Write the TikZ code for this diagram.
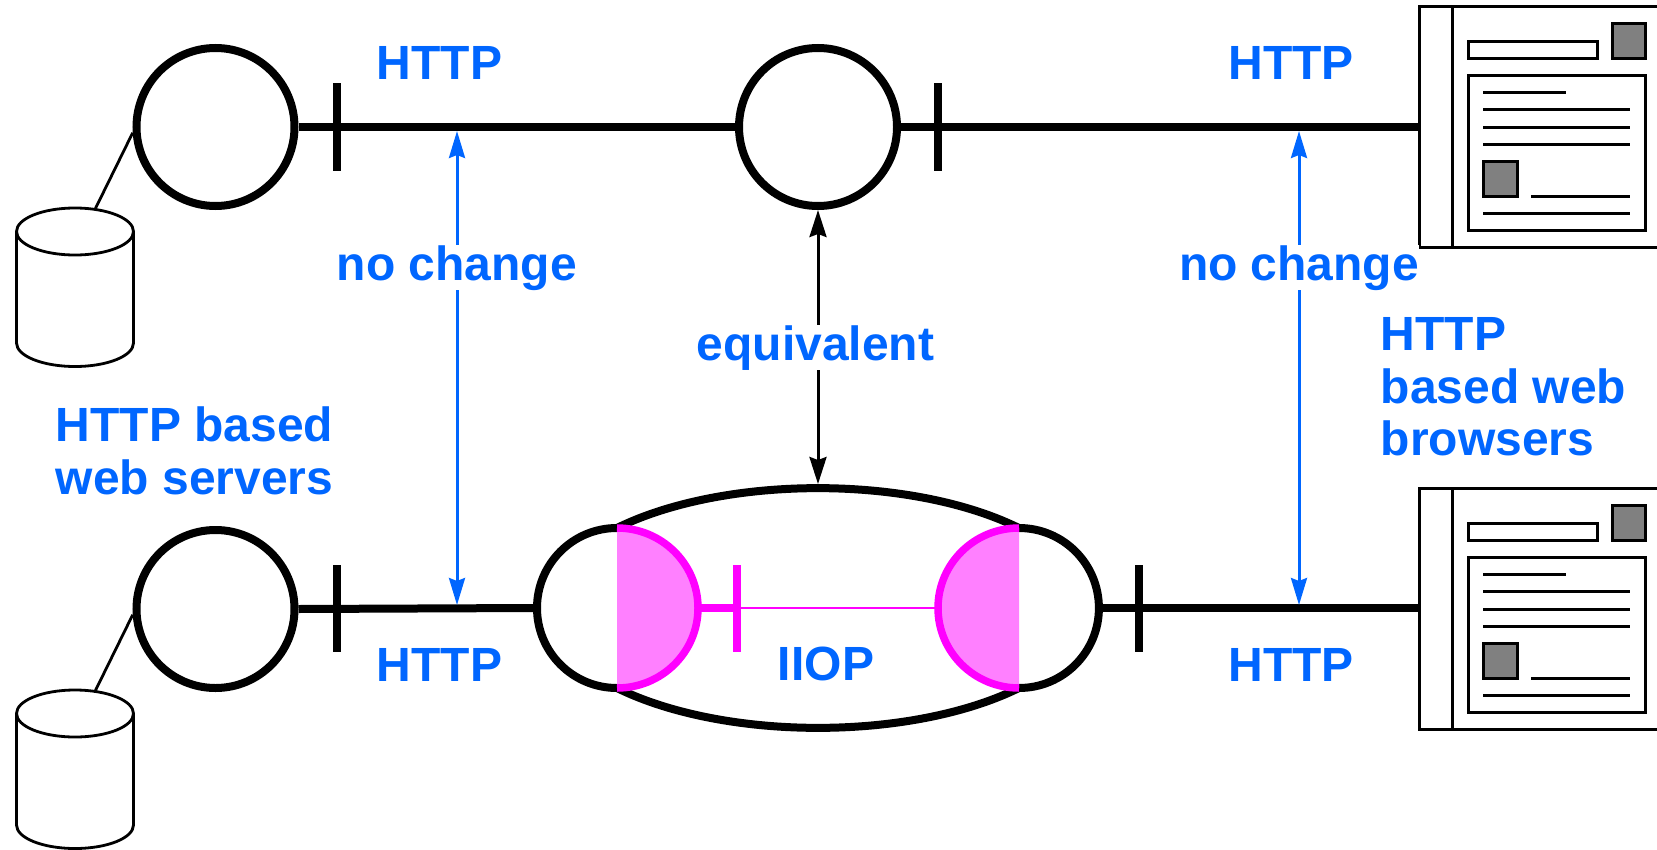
\documentclass[tikz,border=0pt]{standalone}
\usepackage{fontspec}
\setmainfont{Liberation Sans}
\usetikzlibrary{arrows.meta}
\definecolor{lblue}{RGB}{0,102,255}
\definecolor{magstroke}{RGB}{255,0,255}
\definecolor{magfill}{RGB}{255,128,255}
\definecolor{grayfill}{RGB}{128,128,128}
\newcommand{\browsercontent}{%
  \draw[brline] (33,0) -- (33,241);
  \draw[brline] (49,35) rectangle (178,52);
  \draw[brline,fill=grayfill] (193,17) rectangle (226,52);
  \draw[brline] (49,69) rectangle (226,224);
  \draw[brline] (64,86) -- (147,86);
  \draw[brline] (64,103) -- (211,103);
  \draw[brline] (64,121) -- (211,121);
  \draw[brline] (64,138) -- (211,138);
  \draw[brline,fill=grayfill] (64,155) rectangle (98,190);
  \draw[brline] (112,190) -- (211,190);
  \draw[brline] (64,207) -- (211,207);
}
\newcommand{\dbcylinder}{%
  \draw[dbline] (75,231.5) ellipse [x radius=58.5, y radius=23.5];
  \draw[dbline] (16.5,231.5) -- (16.5,343) arc[start angle=180,end angle=0,x radius=58.5,y radius=23.5] -- (133.5,231.5);
}
\begin{document}
\begin{tikzpicture}[x=1bp,y=-1bp,
  heavy/.style={line width=8bp},
  srvcircle/.style={circle,draw,line width=8bp,minimum size=158bp,inner sep=0pt,outer sep=4bp},
  brline/.style={line width=3bp},
  dbline/.style={line width=2.8bp},
  brbox/.style={draw,line width=3bp,minimum width=246bp,minimum height=241bp,inner sep=0pt,outer sep=0pt,anchor=north west},
  lbl/.style={text=lblue,font=\fontsize{48bp}{52.5bp}\selectfont\bfseries,inner sep=0pt},
  gaplbl/.style={lbl,fill=white},
  bluearr/.style={draw=lblue,line width=3bp,{Stealth[length=27bp,width=16bp,inset=3bp]}-{Stealth[length=27bp,width=16bp,inset=3bp]}},
  blkarr/.style={draw=black,line width=3bp,{Stealth[length=27bp,width=17bp,inset=3bp]}-{Stealth[length=27bp,width=17bp,inset=3bp]}},
  magthick/.style={draw=magstroke,line width=7.5bp},
  magthin/.style={draw=magstroke,line width=2.5bp}
]
\useasboundingbox (0,0) rectangle (1657,849);
\clip (0,0) rectangle (1657,849);

% server / gateway circles
\node[srvcircle] (srv1) at (215.5,127) {};
\node[srvcircle] (mid) at (818,127) {};
\node[srvcircle] (srv2) at (215.5,609) {};

% databases
\dbcylinder
\coordinate (db1) at (95,209.4);
\begin{scope}[shift={(0,482)}]
  \dbcylinder
\end{scope}
\coordinate (db2) at (95,691.4);
\draw[dbline] (srv1.184) -- (db1);
\draw[dbline] (srv2.184) -- (db2);

% browsers
\node[brbox] (br1) at (1419,6) {};
\begin{scope}[shift={(1419,6)}]
  \browsercontent
\end{scope}
\node[brbox] (br2) at (1419,488) {};
\begin{scope}[shift={(1419,488)}]
  \browsercontent
\end{scope}

% oval (IIOP bridge)
\draw[heavy,line join=round] (617,528)
  arc[start angle=270,end angle=90,radius=80]
  arc[start angle=138.1,end angle=41.9,x radius=270,y radius=120]
  arc[start angle=90,end angle=-90,radius=80]
  arc[start angle=-41.9,end angle=-138.1,x radius=270,y radius=120] -- cycle;
\coordinate (ovalW) at (533,608);
\coordinate (ovalE) at (1103,608);
\coordinate (ovalN) at (818,484);

% main links
\draw[heavy] (srv1.east) -- (mid.west);
\draw[heavy] (mid.east) -- (mid.east -| br1.west);
\draw[heavy] (srv2.east) -- (ovalW);
\draw[heavy] (ovalE) -- (ovalE -| br2.west);

% ticks
\draw[heavy] (337,83) -- (337,171);
\draw[heavy] (938,83) -- (938,171);
\draw[heavy] (337,565) -- (337,652);
\draw[heavy] (1139,565) -- (1139,652);

% magenta half discs and IIOP link
\fill[magfill] (617,528) arc[start angle=-90,end angle=90,x radius=81,y radius=80] -- cycle;
\draw[magthick] (617,528) arc[start angle=-90,end angle=90,x radius=81,y radius=80];
\fill[magfill] (1019,528) arc[start angle=270,end angle=90,x radius=81,y radius=80] -- cycle;
\draw[magthick] (1019,528) arc[start angle=270,end angle=90,x radius=81,y radius=80];
\coordinate (orbL) at (698,608);
\coordinate (orbR) at (938,608);
\coordinate (orbT) at (737,608);
\draw[magthick] (orbL) -- (orbT);
\draw[magthick] (737,565) -- (737,652);
\draw[magthin] (orbT) -- (orbR);

% arrows
\coordinate (a1t) at (457,131);
\coordinate (a1b) at (457,605);
\coordinate (a2t) at (1299,131);
\coordinate (a2b) at (1299,605);
\draw[bluearr] (a1t) -- (a1b);
\draw[bluearr] (a2t) -- (a2b);
\draw[blkarr] (mid.south) -- (ovalN);

% labels
\node[gaplbl,anchor=base] (nc1) at (457,280) {no change};
\node[gaplbl,anchor=base] (nc2) at (1299,280) {no change};
\node[gaplbl,anchor=base] (eqv) at (815.5,360) {equivalent};
\node[lbl,anchor=base] (h1) at (439.5,79) {HTTP};
\node[lbl,anchor=base] (h2) at (1291,79) {HTTP};
\node[lbl,anchor=base] (h3) at (439.5,681) {HTTP};
\node[lbl,anchor=base] (h4) at (1291,681) {HTTP};
\node[lbl,anchor=base] (iiop) at (826,680) {IIOP};
\node[lbl,align=left,anchor=north west] (srvlbl) at (55.5,406.6) {HTTP based\\web servers};
\node[lbl,align=left,anchor=north west] (brlbl) at (1380.5,317.6) {HTTP\\based web\\browsers};
\end{tikzpicture}
\end{document}
